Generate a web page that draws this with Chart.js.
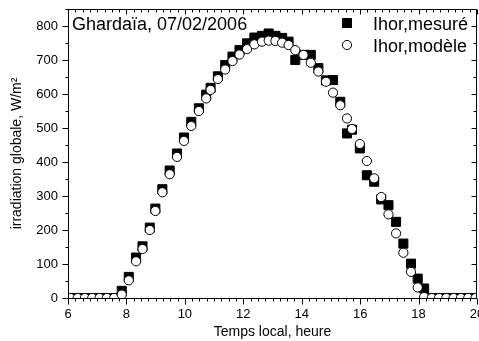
<!DOCTYPE html>
<html>
<head>
<meta charset="utf-8">
<script src="https://cdn.jsdelivr.net/npm/chart.js@4.4.0/dist/chart.umd.min.js"></script>
<style>
  html, body { margin: 0; padding: 0; background: #fff; }
  canvas { display: block; }
</style>
</head>
<body>
<canvas id="ihorChart" width="479" height="341"></canvas>
<script>
// temps local (heure) et irradiation globale (W/m²)
const hours = [6.08, 6.33, 6.58, 6.83, 7.08, 7.33, 7.58, 7.84, 8.08, 8.33,
  8.55, 8.80, 8.99, 9.23, 9.48, 9.73, 9.97, 10.22, 10.48, 10.73,
  10.88, 11.13, 11.38, 11.63, 11.87, 12.13, 12.38, 12.64, 12.87, 13.10,
  13.33, 13.55, 13.78, 14.06, 14.31, 14.57, 14.83, 15.07, 15.32, 15.55,
  15.72, 15.99, 16.23, 16.48, 16.72, 16.97, 17.23, 17.48, 17.74, 17.97,
  18.19, 18.45, 18.70, 18.95, 19.20, 19.45, 19.70, 19.95];
const mesure = [0, 0, 0, 0, 0, 0, 0, 21, 62, 119,
  152, 207, 263, 320, 375, 425, 472, 518, 558, 598,
  618, 652, 685, 710, 729, 749, 766, 771, 778, 771,
  765, 754, 700, 715, 715, 676, 640, 641, 577, 484,
  495, 440, 361, 342, 290, 273, 224, 160, 101, 57,
  28, 0, 0, 0, 0, 0, 0, 0];
const modele = [0, 0, 0, 0, 0, 0, 0, 10, 52, 108,
  144, 200, 256, 311, 364, 415, 462, 506, 550, 587,
  612, 644, 672, 697, 716, 732, 746, 754, 757, 756,
  751, 744, 729, 715, 692, 666, 636, 604, 567, 528,
  497, 453, 403, 352, 297, 246, 190, 133, 77, 31,
  3, 0, 0, 0, 0, 0, 0, 0];
const seriesNames = ['Ihor,mesuré', 'Ihor,modèle'];
const xTicks = [6, 8, 10, 12, 14, 16, 18, 20];
const yTicks = [0, 100, 200, 300, 400, 500, 600, 700, 800];
const titleText = 'Ghardaïa, 07/02/2006';

const toPoints = (vals) => hours.map((h, i) => ({ x: h, y: vals[i] }));

Chart.defaults.font.family = '"Liberation Sans", Arial, sans-serif';
Chart.defaults.color = '#000';

// frame + ticks on the four sides, title and legend inside the plot
const framePlugin = {
  id: 'frame',
  afterDatasetsDraw(chart) {
    const { ctx, chartArea: a, scales } = chart;
    const x = scales.x, y = scales.y;
    const L = a.left + 0.5, R = a.right - 0.5, T = a.top + 0.5, B = a.bottom + 0.5;
    ctx.save();
    ctx.strokeStyle = '#000';
    ctx.lineWidth = 1;
    ctx.beginPath();
    ctx.rect(L, T, R - L, B - T);
    for (let v = 6; v <= 20.001; v += 0.25) {
      const px = Math.round(x.getPixelForValue(v)) + 0.5;
      const major = xTicks.includes(v);
      ctx.moveTo(px, B); ctx.lineTo(px, B + (major ? 6 : 3));
      ctx.moveTo(px, T); ctx.lineTo(px, T + (major ? 5 : 3));
    }
    for (let v = 0; v <= 850; v += 50) {
      const py = Math.round(y.getPixelForValue(v)) + 0.5;
      const major = yTicks.includes(v);
      ctx.moveTo(L, py); ctx.lineTo(L - (major ? 6 : 3), py);
      ctx.moveTo(R, py); ctx.lineTo(R - (major ? 5 : 3), py);
    }
    ctx.stroke();

    ctx.fillStyle = '#000';
    ctx.font = '18px "Liberation Sans", Arial, sans-serif';
    ctx.textBaseline = 'alphabetic';
    ctx.fillText(titleText, 72, 30);

    const ds = chart.data.datasets;
    const rows = [
      { d: ds[1], y: 23, base: 30 },
      { d: ds[0], y: 45, base: 52 }
    ];
    rows.forEach(r => {
      ctx.fillStyle = r.d.backgroundColor;
      ctx.strokeStyle = r.d.borderColor;
      ctx.lineWidth = r.d.borderWidth;
      Chart.helpers.drawPoint(ctx, {
        pointStyle: r.d.pointStyle, radius: r.d.pointRadius, rotation: 0,
        borderWidth: r.d.borderWidth
      }, 347, r.y);
      ctx.fillStyle = '#000';
      ctx.fillText(r.d.label, 373, r.base);
    });
    ctx.restore();
  }
};

new Chart(document.getElementById('ihorChart').getContext('2d'), {
  type: 'scatter',
  data: {
    datasets: [
      {
        label: seriesNames[1],
        data: toPoints(modele),
        pointStyle: 'circle',
        pointRadius: 4.6,
        backgroundColor: '#fff',
        borderColor: '#000',
        borderWidth: 1,
        clip: 0
      },
      {
        label: seriesNames[0],
        data: toPoints(mesure),
        pointStyle: 'rect',
        pointRadius: 6.4,
        backgroundColor: '#000',
        borderColor: '#000',
        borderWidth: 1,
        clip: 0
      }
    ]
  },
  options: {
    responsive: false,
    animation: false,
    events: [],
    layout: { autoPadding: false, padding: { top: 9, right: 2, left: 0, bottom: 0 } },
    plugins: { legend: { display: false }, tooltip: { enabled: false } },
    scales: {
      x: {
        type: 'linear',
        min: 6,
        max: 20,
        grid: { display: false, drawTicks: false },
        border: { display: false },
        ticks: { stepSize: 2, padding: 9, font: { size: 13 }, maxRotation: 0 },
        title: {
          display: true,
          text: 'Temps local, heure',
          font: { size: 14 },
          padding: { top: 0, bottom: 0 }
        },
        afterFit: (s) => {
          s.height = 43;
          s.paddingLeft = 0;
          s.paddingRight = 0;
        }
      },
      y: {
        min: 0,
        max: 850,
        grid: { display: false, drawTicks: false },
        border: { display: false },
        ticks: { stepSize: 100, padding: 10, font: { size: 13 } },
        afterBuildTicks: (s) => { s.ticks = s.ticks.filter(t => yTicks.includes(t.value)); },
        title: {
          display: true,
          text: 'irradiation globale, W/m²',
          font: { size: 14 },
          padding: { top: 9, bottom: 0 }
        },
        afterFit: (s) => {
          s.width = 68;
          s.paddingTop = 0;
          s.paddingBottom = 0;
        }
      }
    }
  },
  plugins: [framePlugin]
});
</script>
</body>
</html>
